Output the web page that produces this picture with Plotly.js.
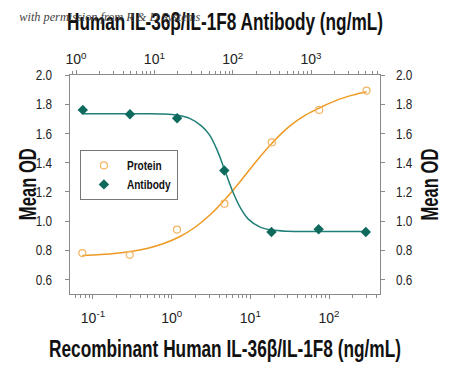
<!DOCTYPE html>
<html>
<head>
<meta charset="utf-8">
<script src="https://cdn.plot.ly/plotly-3.0.1.min.js"></script>
<style>
html,body{margin:0;padding:0;background:#fff;}
#chart{width:450px;height:370px;}
</style>
</head>
<body>
<div id="chart"></div>
<script>
// Recombinant protein (bottom axis, ng/mL)
const proteinConc = [0.0732, 0.293, 1.17, 4.69, 18.75, 75, 300];
const proteinOD   = [0.780, 0.768, 0.941, 1.119, 1.538, 1.761, 1.893];
// Fitted curve for protein
const proteinFitConc = [0.0732, 0.126, 0.2, 0.316, 0.5, 0.794, 1.26, 2.0, 3.16, 5.01, 7.94, 12.6, 20.0, 31.6, 50.1, 79.4, 126, 200, 300];
const proteinFitOD   = [0.764, 0.770, 0.779, 0.793, 0.814, 0.846, 0.892, 0.959, 1.048, 1.161, 1.290, 1.425, 1.548, 1.650, 1.725, 1.780, 1.828, 1.862, 1.885];
// Neutralizing antibody (top axis, ng/mL)
const antibodyConc = [1.22, 4.88, 19.5, 78.1, 312.5, 1250, 5000];
const antibodyOD   = [1.761, 1.731, 1.704, 1.346, 0.925, 0.943, 0.925];
// Fitted curve for antibody
const antibodyFitConc = [1.22, 3.16, 7.94, 12.6, 20.0, 28.2, 39.8, 50.1, 63.1, 79.4, 100, 126, 158, 224, 316, 501, 1000, 2000, 5000];
const antibodyFitOD   = [1.735, 1.735, 1.735, 1.733, 1.724, 1.703, 1.652, 1.593, 1.487, 1.346, 1.202, 1.088, 1.013, 0.958, 0.938, 0.930, 0.928, 0.928, 0.928];

const yTicks = [0.6, 0.8, 1.0, 1.2, 1.4, 1.6, 1.8, 2.0];
const yTickText = ['0.6', '0.8', '1.0', '1.2', '1.4', '1.6', '1.8', '2.0'];
const bottomTicks = [0.1, 1, 10, 100];
const bottomTickText = ['10<sup>-1</sup>', '10<sup>0</sup>', '10<sup>1</sup>', '10<sup>2</sup>'];
const topTicks = [1, 10, 100, 1000];
const topTickText = ['10<sup>0</sup>', '10<sup>1</sup>', '10<sup>2</sup>', '10<sup>3</sup>'];
const yTitle = 'Mean OD';

const orange = '#EE9A22';
const orangeLight = '#F3B462';
const teal = '#1F7F78';
const tealDark = '#0F6A5E';
const axisGray = '#8a8a8a';
const FONT = '"Liberation Sans", Arial, sans-serif';

const traces = [
  {x: proteinFitConc, y: proteinFitOD, xaxis: 'x', yaxis: 'y', mode: 'lines', line: {color: orange, width: 1.5, shape: 'spline'}, showlegend: false, hoverinfo: 'skip'},
  {x: antibodyFitConc, y: antibodyFitOD, xaxis: 'x2', yaxis: 'y2', mode: 'lines', line: {color: teal, width: 1.5, shape: 'spline'}, showlegend: false, hoverinfo: 'skip'},
  {x: proteinConc, y: proteinOD, xaxis: 'x', yaxis: 'y', mode: 'markers', name: 'Protein',
   marker: {symbol: 'circle-open', size: 7, color: orangeLight, line: {width: 1.2, color: orangeLight}}},
  {x: antibodyConc, y: antibodyOD, xaxis: 'x2', yaxis: 'y2', mode: 'markers', name: 'Antibody',
   marker: {symbol: 'diamond', size: 8, color: tealDark}}
];

const tickFont = {family: FONT, size: 14, color: '#222'};
const titleFont = {family: FONT, size: 23, color: '#111', weight: 'bold'};

const logAxisCommon = {
  type: 'log', showgrid: false, zeroline: false, showline: true, linecolor: axisGray, linewidth: 1,
  ticks: 'outside', ticklen: 4, tickcolor: axisGray, tickmode: 'array',
  minor: {dtick: 'D1', ticks: 'outside', ticklen: 3, tickcolor: axisGray, showgrid: false},
  tickfont: tickFont
};
const yAxisCommon = {
  range: [0.5, 2.0], showgrid: false, zeroline: false, showline: true, linecolor: axisGray, linewidth: 1,
  ticks: 'outside', ticklen: 4, tickcolor: axisGray, tickmode: 'array', tickvals: yTicks, ticktext: yTickText,
  tickfont: {family: FONT, size: 15, color: '#222'}
};

const layout = {
  width: 450, height: 370,
  margin: {l: 70, r: 70, t: 75, b: 76, pad: 0},
  paper_bgcolor: '#fff', plot_bgcolor: '#fff',
  showlegend: true,
  legend: {x: 0.032, y: 0.658, xanchor: 'left', yanchor: 'top', bordercolor: '#777', borderwidth: 1,
           bgcolor: '#fff', itemwidth: 36, font: {family: FONT, size: 12, color: '#111', weight: 'bold'}, tracegroupgap: 0},
  xaxis: Object.assign({}, logAxisCommon, {range: [-1.292, 2.648], side: 'bottom', anchor: 'y',
          tickvals: bottomTicks, ticktext: bottomTickText, ticklabelstandoff: 7,
          title: {text: 'Recombinant Human IL-36β/IL-1F8 (ng/mL)', font: titleFont, standoff: 16}}),
  xaxis2: Object.assign({}, logAxisCommon, {range: [-0.077, 3.88], side: 'top', overlaying: 'x', anchor: 'y',
           tickvals: topTicks, ticktext: topTickText, ticklabelstandoff: 0,
           title: {text: 'Human IL-36β/IL-1F8 Antibody (ng/mL)', font: titleFont, standoff: 12}}),
  yaxis: Object.assign({}, yAxisCommon, {side: 'left', anchor: 'x', ticklabelstandoff: 10}),
  yaxis2: Object.assign({}, yAxisCommon, {side: 'right', overlaying: 'y', anchor: 'x', ticklabelstandoff: 8}),
  annotations: [
    {text: '<i>with permission from R &amp; D Systems</i>', xref: 'paper', yref: 'paper', x: -0.187, y: 1.265,
     xanchor: 'left', yanchor: 'middle', showarrow: false,
     font: {family: '"Liberation Serif", "DejaVu Serif", serif', size: 13, color: '#444'}},
    {text: yTitle, xref: 'paper', yref: 'paper', x: -0.137, y: 0.5, xanchor: 'center', yanchor: 'middle',
     textangle: -90, showarrow: false, font: titleFont},
    {text: yTitle, xref: 'paper', yref: 'paper', x: 1.161, y: 0.5, xanchor: 'center', yanchor: 'middle',
     textangle: -90, showarrow: false, font: titleFont}
  ]
};

function squeezeTo(el, target) {
  if (!el) return;
  el.setAttribute('textLength', target);
  el.setAttribute('lengthAdjust', 'spacingAndGlyphs');
}
function squeezeAll(selector, target) {
  document.querySelectorAll('#chart ' + selector).forEach(function (t) { squeezeTo(t, target); });
}
function squeezeBy(selector, ratio) {
  document.querySelectorAll('#chart ' + selector).forEach(function (t) {
    squeezeTo(t, (t.getComputedTextLength() * ratio).toFixed(1));
  });
}

Plotly.newPlot('chart', traces, layout, {staticPlot: true, displayModeBar: false}).then(function () {
  squeezeAll('.x2title', 316);
  squeezeAll('.xtitle', 352);
  squeezeBy('.ytick text', 0.78);
  squeezeBy('.y2tick text', 0.78);
  squeezeBy('.legendtext', 0.84);
  const ann = document.querySelectorAll('#chart .annotation-text');
  squeezeTo(ann[0], 181);
  squeezeTo(ann[1], 72);
  squeezeTo(ann[2], 72);
  const bg = document.querySelector('#chart .legend .bg');
  if (bg) bg.setAttribute('width', 97);
});
</script>
</body>
</html>
